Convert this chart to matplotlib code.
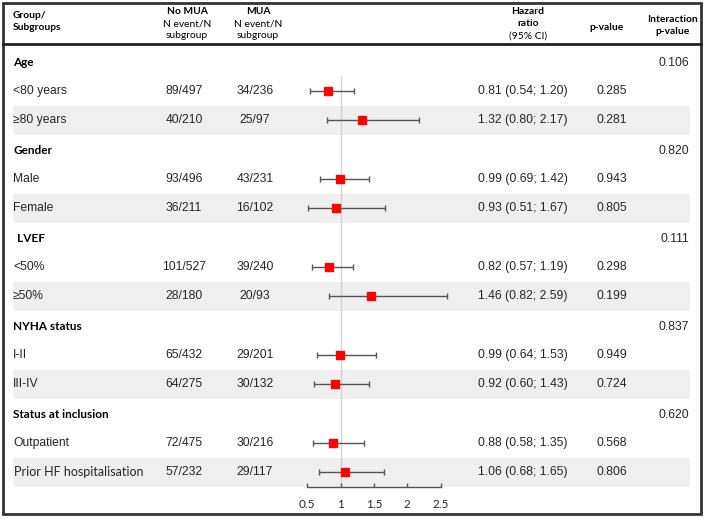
import matplotlib.pyplot as plt
from matplotlib.patches import Rectangle

# rows of the forest table, top to bottom
labels = ["Age", "<80 years", "\u226580 years",
          "Gender", "Male", "Female",
          "LVEF", "<50%", "\u226550%",
          "NYHA status", "I-II", "III-IV",
          "Status at inclusion", "Outpatient", "Prior HF hospitalisation"]
is_group = [True, False, False] * 5
no_mua = ["", "89/497", "40/210", "", "93/496", "36/211", "", "101/527", "28/180",
          "", "65/432", "64/275", "", "72/475", "57/232"]
mua = ["", "34/236", "25/97", "", "43/231", "16/102", "", "39/240", "20/93",
       "", "29/201", "30/132", "", "30/216", "29/117"]
hr = [None, 0.81, 1.32, None, 0.99, 0.93, None, 0.82, 1.46, None, 0.99, 0.92, None, 0.88, 1.06]
lo = [None, 0.54, 0.80, None, 0.69, 0.51, None, 0.57, 0.82, None, 0.64, 0.60, None, 0.58, 0.68]
hi = [None, 1.20, 2.17, None, 1.42, 1.67, None, 1.19, 2.59, None, 1.53, 1.43, None, 1.35, 1.65]
pval = ["", "0.285", "0.281", "", "0.943", "0.805", "", "0.298", "0.199",
        "", "0.949", "0.724", "", "0.568", "0.806"]
p_inter = ["0.106", "", "", "0.820", "", "", "0.111", "", "", "0.837", "", "", "0.620", "", ""]
shaded = [2, 5, 8, 11, 14]
ticks = [0.5, 1, 1.5, 2, 2.5]

W, H = 705, 519
ROW0, STEP = 61.5, 29.35
def ypx(i):
    return ROW0 + STEP * i

ARIAL = "Liberation Sans"
CALI = "Lato"
TXT = "#262626"

fig = plt.figure(figsize=(W / 100, H / 100), dpi=100)
ax = fig.add_axes([0, 0, 1, 1])
ax.set_xlim(0, W)
ax.set_ylim(H, 0)
ax.axis("off")

# frame and header rule
ax.add_patch(Rectangle((3, 3), 698, 511, fill=False, lw=2, ec="#333333"))
ax.plot([3, 701], [43.5, 43.5], color="#222222", lw=2)

# header
hk = dict(fontsize=7.4, family=CALI, color="black")
ax.text(13, 15, "Group/", ha="left", va="center", weight="bold", **hk)
ax.text(13, 28, "Subgroups", ha="left", va="center", weight="bold", **hk)
for xc, name in [(187, "No MUA"), (258, "MUA")]:
    ax.text(xc, 12, name, ha="center", va="center", weight="bold", **hk)
    ax.text(xc, 24, "N event/N", ha="center", va="center", **hk)
    ax.text(xc, 36, "subgroup", ha="center", va="center", **hk)
ax.text(528, 12, "Hazard", ha="center", va="center", weight="bold", **hk)
ax.text(528, 24, "ratio", ha="center", va="center", weight="bold", **hk)
ax.text(528, 36, "(95% CI)", ha="center", va="center", **hk)
ax.text(607, 28, "p-value", ha="center", va="center", weight="bold", **hk)
ax.text(673, 20, "Interaction", ha="center", va="center", weight="bold", **hk)
ax.text(673, 32, "p-value", ha="center", va="center", weight="bold", **hk)

# shaded bands
for i in shaded:
    ax.add_patch(Rectangle((13, ypx(i) - STEP / 2), 677, STEP, color="#efefef", lw=0, zorder=0))

dk = dict(fontsize=8.7, family=ARIAL, color=TXT, va="center")
for i, lab in enumerate(labels):
    y = ypx(i)
    if is_group[i]:
        ax.text(13 if lab != "LVEF" else 17, y + 1, lab, ha="left", va="center",
                fontsize=8.5, family=CALI, weight="bold", color="black")
    elif lab.startswith("Prior"):
        ax.text(14.5, y, lab, ha="left", va="center", fontsize=9, family=CALI, color=TXT)
    else:
        ax.text(13, y, lab, ha="left", **dk)
    if no_mua[i]:
        ax.text(184, y, no_mua[i], ha="center", **dk)
        ax.text(255, y, mua[i], ha="center", **dk)
        ax.text(523, y, f"{hr[i]:.2f} ({lo[i]:.2f}; {hi[i]:.2f})", ha="center", **dk)
        ax.text(612, y, pval[i], ha="center", **dk)
    if p_inter[i]:
        ax.text(689, y + 1, p_inter[i], ha="right", **dk)

# forest panel
xs0, px_per = 307.3, 66.7
left_hr, right_hr = 0.3, 2.7
L = xs0 + (left_hr - 0.5) * px_per
R = xs0 + (right_hr - 0.5) * px_per
T, B = 43, 486.5
fax = fig.add_axes([L / W, 1 - B / H, (R - L) / W, (B - T) / H])
fax.patch.set_visible(False)
fax.set_xlim(left_hr, right_hr)
fax.set_ylim((B - ROW0) / STEP, (T - ROW0) / STEP)
for s in ["top", "left", "right"]:
    fax.spines[s].set_visible(False)
fax.spines["bottom"].set_bounds(0.5, 2.5)
fax.spines["bottom"].set_color("#555555")
fax.spines["bottom"].set_linewidth(1)
fax.set_yticks([])
fax.set_xticks(ticks)
fax.set_xticklabels([f"{t:g}" for t in ticks], family=CALI, fontsize=8.5, color=TXT)
fax.tick_params(axis="x", direction="in", length=3, width=1, color="#555555", pad=9)

fax.vlines(1, 0.5, (B - ROW0) / STEP, color="#d4d4d4", lw=1, zorder=1)
rows = [i for i in range(len(hr)) if hr[i] is not None]
for i in rows:
    fax.errorbar(hr[i], i, xerr=[[hr[i] - lo[i]], [hi[i] - hr[i]]], fmt="s",
                 color="red", ms=5.2, mec="red", ecolor="#555555", elinewidth=1,
                 capsize=2.2, capthick=1, zorder=3)

fig.savefig("out.png", dpi=100)
